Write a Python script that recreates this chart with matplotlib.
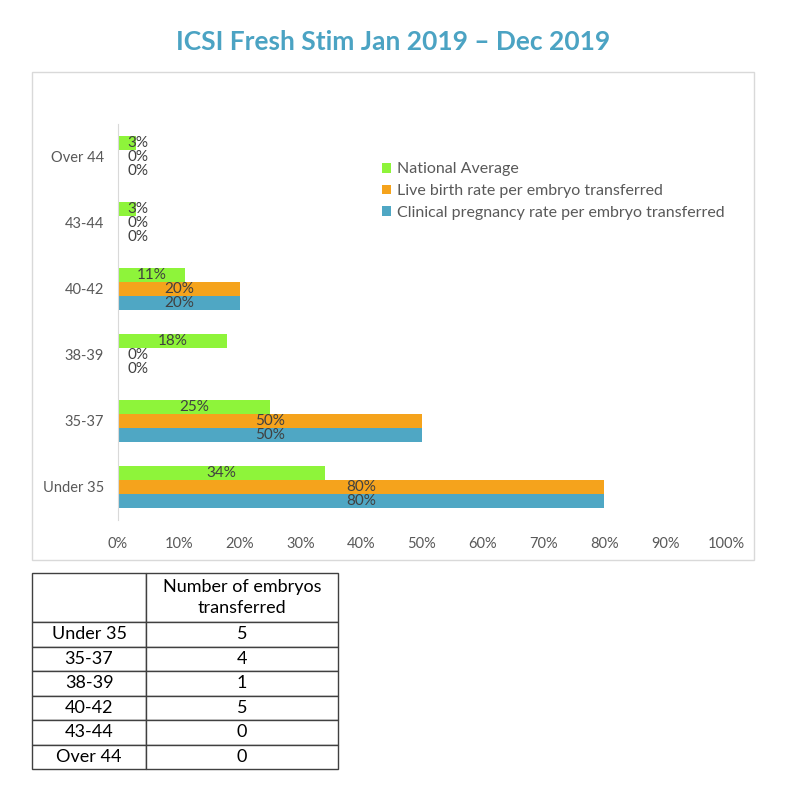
import matplotlib.pyplot as plt
from matplotlib.patches import Rectangle

ages = ["Under 35", "35-37", "38-39", "40-42", "43-44", "Over 44"]
national_avg = [34, 25, 18, 11, 3, 3]
live_birth = [80, 50, 0, 20, 0, 0]
clinical_preg = [80, 50, 0, 20, 0, 0]
embryos = [5, 4, 1, 5, 0, 0]

series = [
    ("National Average", national_avg, "#8ef43a", 0.21),
    ("Live birth rate per embryo transferred", live_birth, "#f5a31c", 0.0),
    ("Clinical pregnancy rate per embryo transferred", clinical_preg, "#4fa7c4", -0.21),
]

plt.rcParams['font.family'] = ['Lato', 'DejaVu Sans']

fig = plt.figure(figsize=(8, 8), dpi=100)

# outer chart frame
fig.patches.append(Rectangle((32 / 800, 1 - 560 / 800), 722 / 800, 488 / 800,
                             transform=fig.transFigure, fill=False,
                             edgecolor="#d9d9d9", lw=1))

fig.text(0.492, 1 - 42 / 800, "ICSI Fresh Stim Jan 2019 \u2013 Dec 2019",
         ha="center", va="center", fontsize=19, fontweight="bold", color="#4ba3c3")

ax = fig.add_axes([118 / 800, 1 - 520 / 800, 608 / 800, 396 / 800])
ypos = list(range(len(ages)))
bh = 0.21
handles = []
for name, vals, col, off in series:
    b = ax.barh([y + off for y in ypos], vals, height=bh, color=col, label=name)
    handles.append(b)
    for y, v in zip(ypos, vals):
        if v < 5:
            ax.text(1.5, y + off, f"{v}%", ha="left", va="center",
                    fontsize=11, color="#404040")
        else:
            ax.text(v / 2, y + off, f"{v}%", ha="center", va="center",
                    fontsize=11, color="#404040")

ax.set_xlim(0, 100)
ax.set_ylim(-0.5, 5.5)
ax.set_xticks(range(0, 101, 10))
ax.set_xticklabels([f"{t}%" for t in range(0, 101, 10)])
ax.set_yticks(ypos)
ax.set_yticklabels(ages)
ax.tick_params(length=0, labelsize=10.5, labelcolor="#595959", pad=10)
ax.tick_params(axis="x", pad=12)
for s in ["top", "right", "bottom"]:
    ax.spines[s].set_visible(False)
ax.spines["left"].set_color("#d9d9d9")

fig.legend(handles=handles, loc="upper left", bbox_to_anchor=(368 / 800, 1 - 148 / 800),
           frameon=False, fontsize=11.5, handlelength=0.55, handleheight=0.55,
           handletextpad=0.35, labelspacing=0.48, labelcolor="#595959")

# table below
axt = fig.add_axes([32 / 800, 1 - 769 / 800, 306 / 800, 196 / 800])
axt.axis("off")
cells = [["", "Number of embryos\ntransferred"]] + [[a, str(n)] for a, n in zip(ages, embryos)]
tbl = axt.table(cellText=cells, colWidths=[114, 192], cellLoc="center", bbox=[0, 0, 1, 1])
tbl.auto_set_font_size(False)
for (r, c), cell in tbl.get_celld().items():
    cell.set_edgecolor("#404040")
    cell.set_linewidth(1)
    cell.get_text().set_fontsize(13)
    cell.get_text().set_color("#000000")
    cell.get_text().set_linespacing(1.35)
    cell.set_height(2.0 if r == 0 else 1.0)

fig.savefig("out.png", dpi=100)
